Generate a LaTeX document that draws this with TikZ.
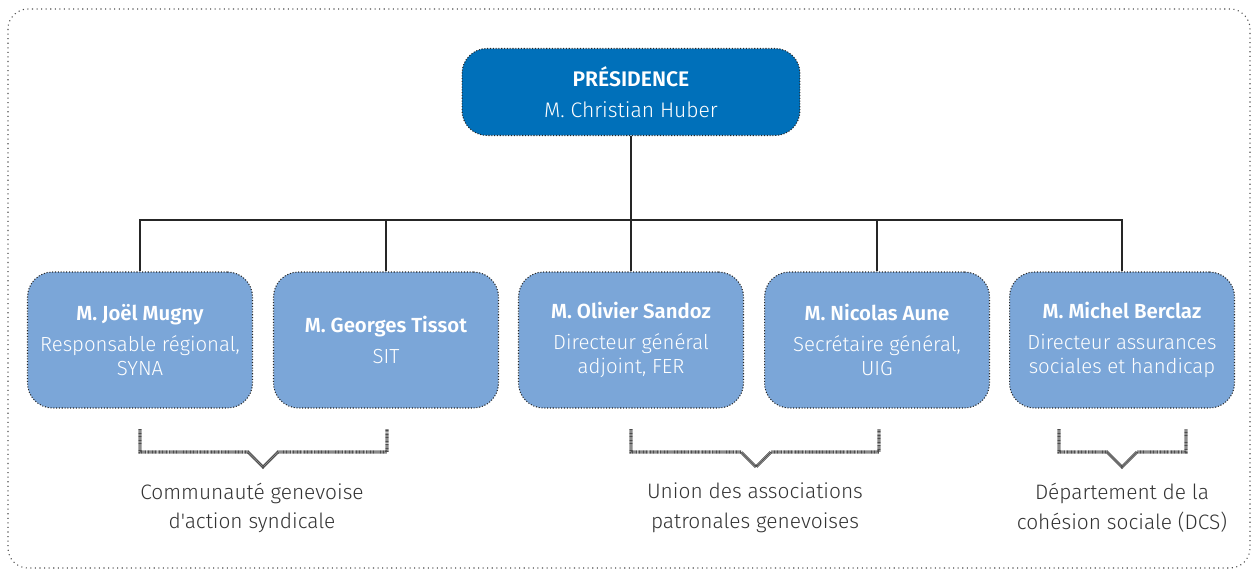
\documentclass[tikz,border=0pt]{standalone}
\usepackage{fontspec}
\setmainfont{Fira Sans}[UprightFont=* Light, BoldFont=* SemiBold, Ligatures=TeXOff]
\definecolor{presblue}{HTML}{0070BA}
\definecolor{membblue}{HTML}{7BA6D8}
\definecolor{labgray}{HTML}{333333}
\begin{document}
\begin{tikzpicture}[x=0.02cm,y=-0.02cm,
  frame/.style={draw=black!70, dotted, line width=0.6pt, rounded corners=0.4cm},
  presbox/.style={draw=black!85, densely dotted, line width=0.6pt, fill=presblue, rounded corners=0.5cm,
    minimum width=6.76cm, minimum height=1.74cm, text=white, align=center, font=\fontsize{12}{15.5}\selectfont},
  membbox/.style={draw=black!85, densely dotted, line width=0.6pt, fill=membblue, rounded corners=0.5cm,
    minimum width=4.5cm, minimum height=2.72cm, text=white, align=center, font=\fontsize{11.6}{13.6}\selectfont},
  link/.style={draw=black!85, line width=0.9pt},
  brace/.style={draw=black!70, line width=1.8pt, dash pattern=on 0.5pt off 0.3pt},
  grouplab/.style={text=labgray, align=center, font=\fontsize{11.9}{17}\selectfont}
]
\useasboundingbox (0,0) rectangle (1252,571);
\draw[frame] (8,9) rectangle (1250,568);

\node[presbox] (pres) at (631,92) {\textbf{PRÉSIDENCE}\\[2pt] M. Christian Huber};

\node[membbox] (m1) at (140,340) {\textbf{M. Joël Mugny}\\[4pt]Responsable régional,\\SYNA};
\node[membbox] (m2) at (386,340) {\textbf{M. Georges Tissot}\\[4pt]SIT};
\node[membbox] (m3) at (631,340) {\textbf{M. Olivier Sandoz}\\[4pt]Directeur général\\adjoint, FER};
\node[membbox] (m4) at (877,340) {\textbf{M. Nicolas Aune}\\[4pt]Secrétaire général,\\UIG};
\node[membbox] (m5) at (1122,340) {\textbf{M. Michel Berclaz}\\[4pt]Directeur assurances\\sociales et handicap};

\coordinate (bus) at (631,220);
\draw[link] (pres.south) -- (bus);
\draw[link] (m1.north) |- (bus);
\draw[link] (m5.north) |- (bus);
\draw[link] (m2.north) -- (m2.north |- bus);
\draw[link] (m3.north) -- (m3.north |- bus);
\draw[link] (m4.north) -- (m4.north |- bus);

% brackets
\draw[brace] (140,429) -- (140,452) -- (248,452) -- (263,467) -- (278,452) -- (387,452) -- (387,429);
\draw[brace] (631,429) -- (631,452) -- (741,452) -- (756,467) -- (771,452) -- (879,452) -- (879,429);
\draw[brace] (1059,429) -- (1059,452) -- (1107,452) -- (1122,467) -- (1137,452) -- (1186,452) -- (1186,429);

\node[grouplab] (g1) at (252,508) {Communauté genevoise\\d'action syndicale};
\node[grouplab] (g2) at (755,508) {Union des associations\\patronales genevoises};
\node[grouplab] (g3) at (1122,508) {Département de la\\cohésion sociale (DCS)};
\end{tikzpicture}
\end{document}
